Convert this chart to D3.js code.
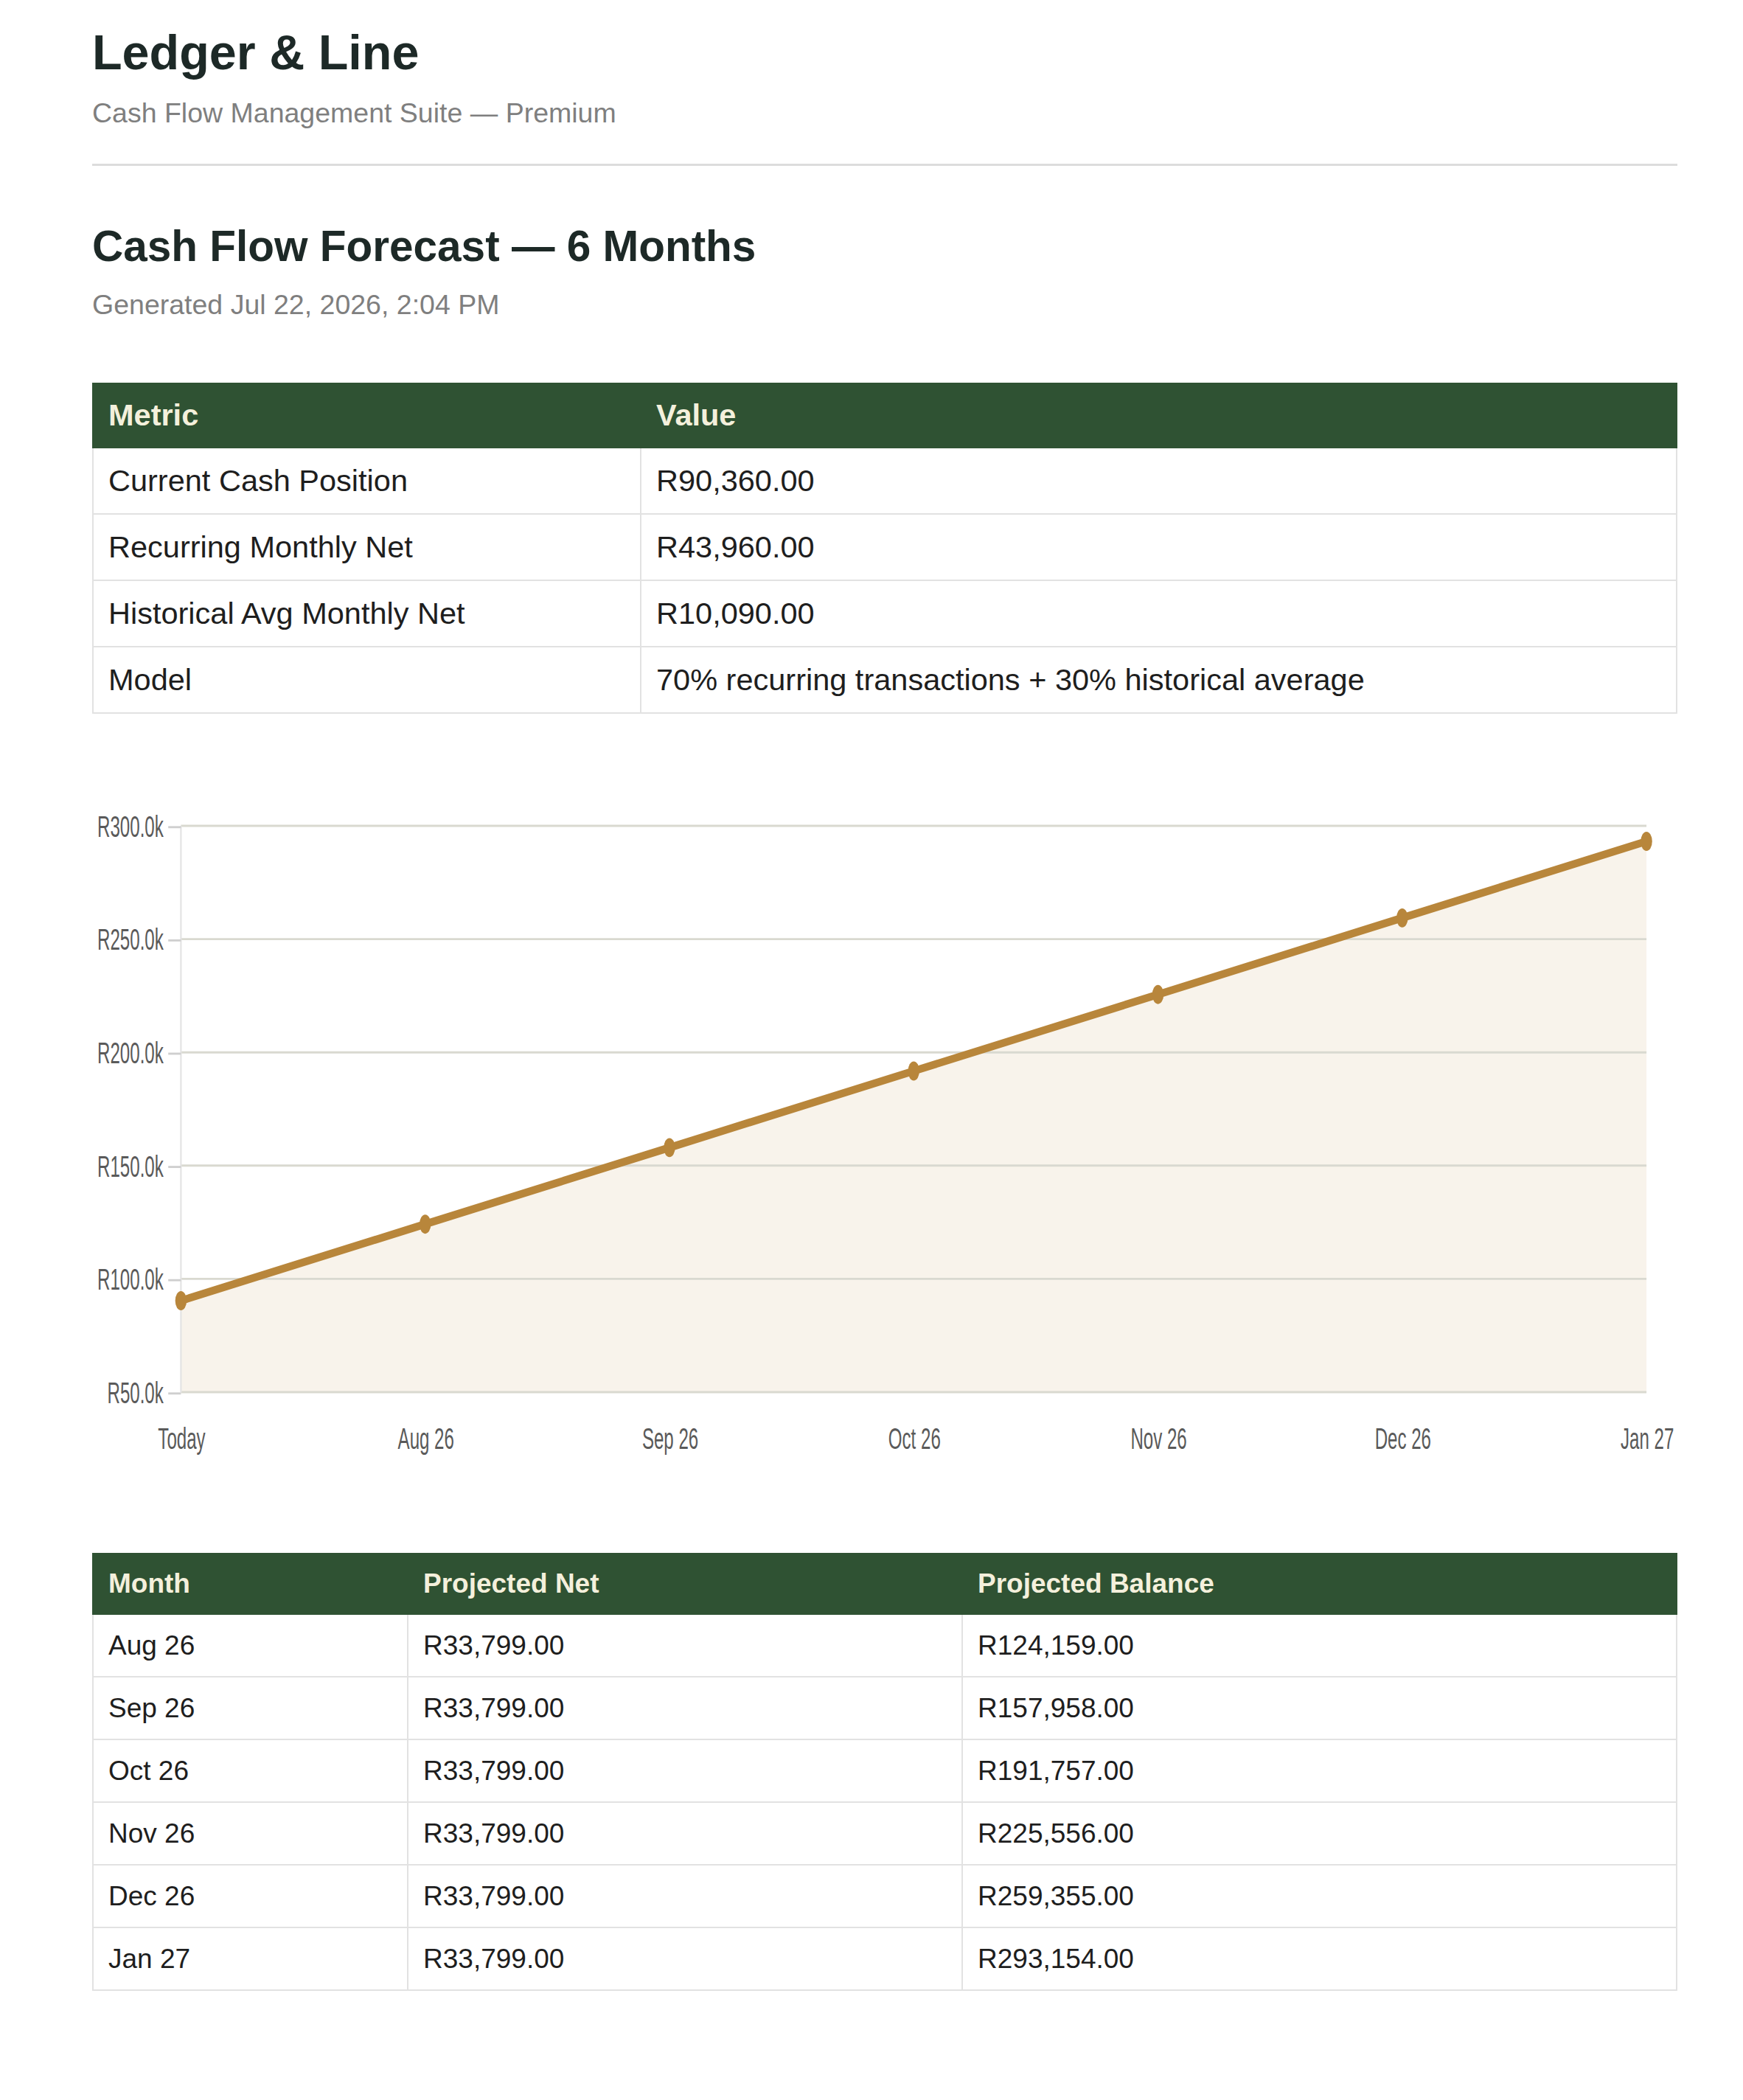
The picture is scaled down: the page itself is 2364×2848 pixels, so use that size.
<!DOCTYPE html>
<html>
<head>
<meta charset="utf-8">
<script src="https://cdn.jsdelivr.net/npm/d3@7"></script>
<style>
  body { margin: 0; background: #fff; font-family: "Liberation Sans", Arial, Helvetica, sans-serif; color: #1e1e1e; }
  .page { margin-left: 125px; width: 2150px; padding-top: 38px; }
  h1 { margin: 0; font-size: 66.5px; line-height: 1; font-weight: bold; color: #1d2927; }
  .sub { margin-top: 30.5px; font-size: 37.5px; line-height: 1; color: #7f7f7f; }
  .rule { margin-top: 49.5px; height: 0; border-top: 3px solid #dcdcdc; }
  h2 { margin: 79.5px 0 0 0; font-size: 58.5px; line-height: 1; font-weight: bold; color: #1d2927; }
  .meta { margin-top: 31.5px; font-size: 37.5px; line-height: 1; color: #7f7f7f; }
  table { border-collapse: collapse; table-layout: fixed; width: 2150px; }
  th { background: #2f5233; color: #f4f0dc; font-weight: bold; text-align: left; padding: 0 20px; border: 2px solid #2f5233; }
  td { text-align: left; padding: 0 20px; border: 2px solid #e2e2e2; }
  #metrics { margin-top: 86.5px; font-size: 41.5px; }
  #metrics tr.head { height: 87px; }
  #metrics tr.row { height: 90px; }
  #chart { display: block; margin-top: 80.5px; width: 2150px; height: 972px; }
  #forecast { margin-top: 86px; font-size: 37px; }
  #forecast tr.head { height: 82px; }
  #forecast tr.row { height: 85px; }
</style>
</head>
<body>
<div class="page">
  <h1>Ledger &amp; Line</h1>
  <div class="sub">Cash Flow Management Suite — Premium</div>
  <div class="rule"></div>
  <h2>Cash Flow Forecast — 6 Months</h2>
  <div class="meta">Generated Jul 22, 2026, 2:04 PM</div>
  <table id="metrics"></table>
  <svg id="chart"></svg>
  <table id="forecast"></table>
</div>
<script>
// summary table
const metricNames = ['Current Cash Position', 'Recurring Monthly Net', 'Historical Avg Monthly Net', 'Model'];
const metricValues = ['R90,360.00', 'R43,960.00', 'R10,090.00', '70% recurring transactions + 30% historical average'];

// forecast
const months = ['Aug 26', 'Sep 26', 'Oct 26', 'Nov 26', 'Dec 26', 'Jan 27'];
const projectedNet = [33799, 33799, 33799, 33799, 33799, 33799];
const projectedBalance = [124159, 157958, 191757, 225556, 259355, 293154];

const startLabel = 'Today';
const startBalance = 90360;
const yTicks = [50000, 100000, 150000, 200000, 250000, 300000];

const money = d3.format(',.2f');
const rand = (v) => 'R' + money(v);

// metrics table
const metrics = d3.select('#metrics');
const mcols = metrics.append('colgroup');
mcols.append('col').style('width', '743px');
mcols.append('col');
metrics.append('tr').attr('class', 'head')
    .selectAll('th')
    .data(['Metric', 'Value'])
    .enter()
    .append('th')
    .text((d) => d);
metrics.selectAll('tr.row')
    .data(metricNames)
    .enter()
    .append('tr')
    .attr('class', 'row')
    .selectAll('td')
    .data((d, i) => [d, metricValues[i]])
    .enter()
    .append('td')
    .text((d) => d);

// chart (stretched viewBox, like the original)
const VW = 1000;
const VH = 270;
const margin = { top: 20, right: 19.5, bottom: 36.67, left: 56 };
const plotW = VW - margin.left - margin.right;
const plotH = VH - margin.top - margin.bottom;

const labels = [startLabel, ...months];
const balances = [startBalance, ...projectedBalance];

const x = d3.scalePoint().domain(labels).range([0, plotW]);
const y = d3.scaleLinear().domain([50000, 300000]).range([plotH, 0]);

const svg = d3.select('#chart')
    .attr('viewBox', `0 0 ${VW} ${VH}`)
    .attr('preserveAspectRatio', 'none')
    .style('font-family', '"Liberation Sans", Arial, Helvetica, sans-serif');

const g = svg.append('g')
    .attr('transform', `translate(${margin.left}, ${margin.top})`);

const lineColor = '#b8863b';

g.append('path')
    .datum(balances)
    .attr('fill', lineColor)
    .attr('fill-opacity', 0.1)
    .attr('d', d3.area()
        .x((d, i) => x(labels[i]))
        .y0(plotH)
        .y1((d) => y(d)));

g.append('g')
    .selectAll('line')
    .data(yTicks)
    .enter()
    .append('line')
    .attr('x1', 0)
    .attr('x2', plotW)
    .attr('y1', (d) => y(d))
    .attr('y2', (d) => y(d))
    .attr('stroke', '#d9d9d0')
    .attr('stroke-width', 0.8);

g.append('line')
    .attr('x1', 0)
    .attr('x2', 0)
    .attr('y1', y(300000))
    .attr('y2', y(50000))
    .attr('stroke', '#e3e3e3')
    .attr('stroke-width', 1);

const yAxis = g.append('g')
    .call(d3.axisLeft(y)
        .tickValues(yTicks)
        .tickSizeInner(8)
        .tickSizeOuter(0)
        .tickPadding(3)
        .tickFormat((d) => 'R' + (d / 1000).toFixed(1) + 'k'));
yAxis.select('.domain').remove();
yAxis.selectAll('line').attr('stroke', '#cfcfcf').attr('stroke-width', 0.8);
yAxis.selectAll('text').attr('fill', '#5a5a5a').style('font-size', '11.2px');

const xAxis = g.append('g')
    .attr('transform', `translate(0, ${plotH})`)
    .call(d3.axisBottom(x).tickSize(0).tickPadding(13.5));
xAxis.select('.domain').remove();
xAxis.selectAll('text').attr('fill', '#5a5a5a').style('font-size', '11.2px');

g.append('path')
    .datum(balances)
    .attr('fill', 'none')
    .attr('stroke', lineColor)
    .attr('stroke-width', 3)
    .attr('stroke-linejoin', 'round')
    .attr('d', d3.line()
        .x((d, i) => x(labels[i]))
        .y((d) => y(d)));

g.selectAll('circle')
    .data(balances)
    .enter()
    .append('circle')
    .attr('cx', (d, i) => x(labels[i]))
    .attr('cy', (d) => y(d))
    .attr('r', 3.6)
    .attr('fill', lineColor);

// forecast table
const forecast = d3.select('#forecast');
const fcols = forecast.append('colgroup');
fcols.append('col').style('width', '427px');
fcols.append('col').style('width', '752px');
fcols.append('col');
forecast.append('tr').attr('class', 'head')
    .selectAll('th')
    .data(['Month', 'Projected Net', 'Projected Balance'])
    .enter()
    .append('th')
    .text((d) => d);
forecast.selectAll('tr.row')
    .data(months)
    .enter()
    .append('tr')
    .attr('class', 'row')
    .selectAll('td')
    .data((d, i) => [d, rand(projectedNet[i]), rand(projectedBalance[i])])
    .enter()
    .append('td')
    .text((d) => d);
</script>
</body>
</html>
